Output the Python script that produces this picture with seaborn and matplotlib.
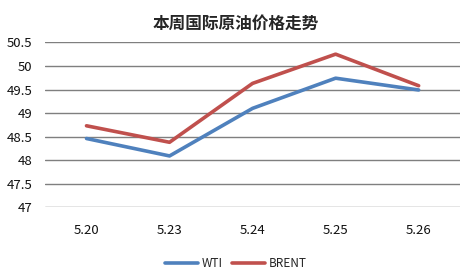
import matplotlib
matplotlib.use("Agg")
import matplotlib.pyplot as plt
import seaborn as sns
import pandas as pd
from matplotlib.lines import Line2D

dates = ["5.20", "5.23", "5.24", "5.25", "5.26"]
wti = [48.46, 48.09, 49.10, 49.74, 49.49]
brent = [48.73, 48.38, 49.63, 50.25, 49.58]
yticks = [47, 47.5, 48, 48.5, 49, 49.5, 50, 50.5]
ytick_labels = ["47", "47.5", "48", "48.5", "49", "49.5", "50", "50.5"]
title = "本周国际原油价格走势"

sns.set_theme(style="white")
plt.rcParams['font.family'] = ['Noto Sans CJK SC', 'DejaVu Sans']

df = pd.DataFrame({
    "date": dates * 2,
    "price": wti + brent,
    "series": ["WTI"] * len(dates) + ["BRENT"] * len(dates),
})
df["x"] = list(range(len(dates))) * 2

fig = plt.figure(figsize=(4.71, 2.77), dpi=100)
ax = fig.add_axes([0.0955, 0.2516, 0.8815, 0.5954])

sns.lineplot(data=df, x="x", y="price", hue="series",
             palette={"WTI": "#4F81BD", "BRENT": "#C0504D"},
             linewidth=2.6, ax=ax, legend=False)

ax.set_xlim(-0.5, len(dates) - 0.5)
ax.set_ylim(47, 50.5)
ax.set_yticks(yticks)
ax.set_yticklabels(ytick_labels, fontsize=9.5, color="#111111")
ax.set_xticks(range(len(dates)))
ax.set_xticklabels(dates, fontsize=9.5, color="#111111")
ax.tick_params(axis="y", length=0, pad=9)
ax.tick_params(axis="x", length=0, pad=12)
ax.set_xlabel("")
ax.set_ylabel("")
for s in ax.spines.values():
    s.set_visible(False)
ax.yaxis.grid(True, color="#7f7f7f", linewidth=1.0)
ax.set_axisbelow(True)

fig.text(0.5, 0.913, title, ha="center", va="center", fontsize=12, fontweight="bold")

handles = [Line2D([], [], color="#4F81BD", linewidth=2.6),
           Line2D([], [], color="#C0504D", linewidth=2.6)]
fig.legend(handles, ["WTI", "BRENT"], loc="center", bbox_to_anchor=(0.5, 0.05),
           ncol=2, frameon=False, fontsize=8.5, handlelength=2.8,
           columnspacing=0.8, handletextpad=0.3)

fig.savefig("out.png", dpi=100, facecolor="white")
